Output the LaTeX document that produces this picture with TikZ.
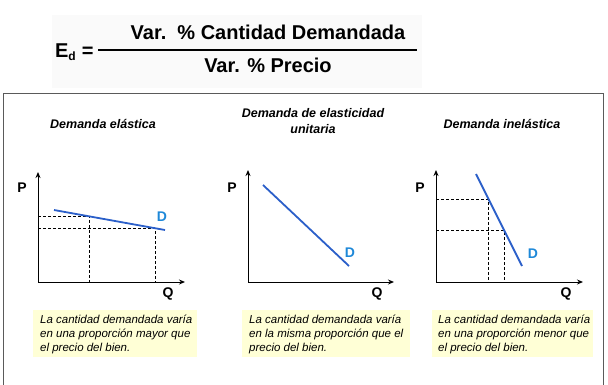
\documentclass[tikz,border=0pt]{standalone}
\usepackage{fontspec}
\setmainfont{Liberation Sans}
\usepackage{xcolor}
\usetikzlibrary{arrows.meta,positioning,calc}
\definecolor{demblue}{HTML}{2B5FC9}
\definecolor{dlabel}{HTML}{1E88D8}
\definecolor{notefill}{HTML}{FFFFD6}
\definecolor{framegray}{HTML}{5A5A5A}
\definecolor{formback}{HTML}{FAFAFA}
\tikzset{
  axis/.style={line width=1pt,-{Stealth[length=6pt,width=5pt]}},
  demline/.style={demblue,line width=1.8pt},
  guide/.style={line width=0.8pt,dash pattern=on 3pt off 2pt},
  paneltitle/.style={font=\fontsize{12.5}{16}\selectfont\bfseries\itshape,align=center},
  axlabel/.style={font=\fontsize{14}{14}\selectfont\bfseries},
  dlab/.style={dlabel,font=\fontsize{14}{14}\selectfont\bfseries},
  notetext/.style={anchor=north west,align=left,inner sep=0pt,font=\fontsize{11.5}{14}\selectfont\itshape}
}
\begin{document}
\begin{tikzpicture}[x=1pt,y=-1pt]
  \useasboundingbox (0,0) rectangle (608,384);
  % formula
  \fill[formback] (52,15) rectangle (422,88);
  \node[font=\fontsize{20}{20}\selectfont\bfseries] (num) at (268,32) {Var.\ \ \% Cantidad Demandada};
  \node[font=\fontsize{20}{20}\selectfont\bfseries] (den) at (268,65) {Var. \% Precio};
  \node[font=\fontsize{20}{20}\selectfont\bfseries,anchor=east] (ed) at (97,52) {E\textsubscript{\fontsize{12}{12}\selectfont d} =};
  \draw[line width=2pt] (98,50) -- (417,50);
  % frame
  \draw[framegray,line width=1pt] (3,93) -- (603,93) -- (603,386) (3,93) -- (3,386);
  % notes
  \fill[notefill] (33,310) rectangle (197,357);
  \fill[notefill] (242,310) rectangle (410,357);
  \fill[notefill] (432,310) rectangle (593,357);
  \node[notetext] (n1) at (40,315) {La cantidad demandada varía\\en una proporción mayor que\\el precio del bien.};
  \node[notetext] (n2) at (249,315) {La cantidad demandada varía\\en la misma proporción que el\\precio del bien.};
  \node[notetext] (n3) at (438,315) {La cantidad demandada varía\\en una proporción menor que\\el precio del bien.};
  % titles
  \node[paneltitle] (t1) at (103,124) {Demanda elástica};
  \node[paneltitle] (t2) at (313,121) {Demanda de elasticidad\\unitaria};
  \node[paneltitle] (t3) at (502,124) {Demanda inelástica};
  % axes
  \foreach \ox/\xe/\yt [count=\i] in {38/185/172,248/394/170,436/583/170} {
    \coordinate (o\i) at (\ox,282);
    \draw[axis] (o\i) -- (\ox,\yt);
    \draw[axis] (o\i) -- (\xe,282);
    \node[axlabel] (P\i) at (\ox-16,188) {P};
    \node[axlabel] (Q\i) at (\xe-17,294) {Q};
  }
  % demand curves
  \coordinate (a1) at (54,210); \coordinate (b1) at (165,230);
  \coordinate (a2) at (263,185); \coordinate (b2) at (349,266);
  \coordinate (a3) at (476,174); \coordinate (b3) at (522,266);
  \coordinate (p11) at ($(a1)!0.32!(b1)$); \coordinate (p12) at ($(a1)!0.91!(b1)$);
  \coordinate (p31) at ($(a3)!0.28!(b3)$); \coordinate (p32) at ($(a3)!0.61!(b3)$);
  \foreach \p in {p11,p12} { \draw[guide] (o1 |- \p) -- (\p) -- (\p |- o1); }
  \foreach \p in {p31,p32} { \draw[guide] (o3 |- \p) -- (\p) -- (\p |- o3); }
  \draw[demline] (a1) -- (b1);
  \draw[demline] (a2) -- (b2);
  \draw[demline] (a3) -- (b3);
  \node[dlab] (d1) at (162,217) {D};
  \node[dlab] (d2) at (350,253) {D};
  \node[dlab] (d3) at (533,254) {D};
\end{tikzpicture}
\end{document}
